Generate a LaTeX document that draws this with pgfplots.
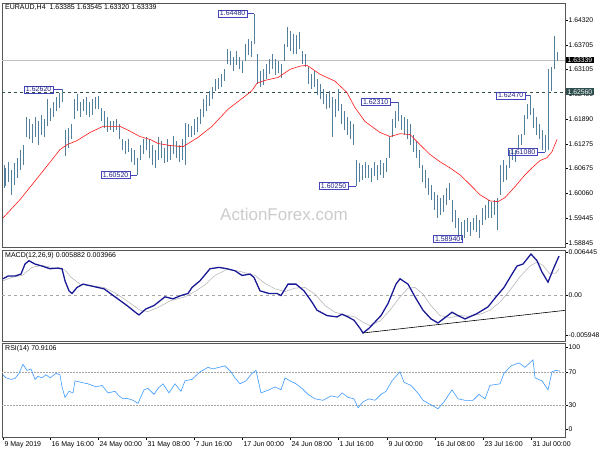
\documentclass[border=0pt]{standalone}
\usepackage{fontspec}
\setmainfont{Liberation Sans}
\usepackage{pgfplots}
\usepackage{pgfplotstable}
\pgfplotsset{compat=1.18}
\definecolor{barc}{HTML}{52809C}
\definecolor{labb}{HTML}{4444BB}
\definecolor{labt}{HTML}{22228A}
\definecolor{macdc}{HTML}{1A1A96}
\definecolor{rsic}{HTML}{3D9BFF}
\definecolor{slate}{HTML}{2F4F4F}
\definecolor{frame}{HTML}{555555}

\pgfplotstableread{
x lo hi
4 1.6020 1.6077
5 1.6025 1.6069
8 1.6035 1.6084
11 1.6003 1.6065
14 1.6028 1.6082
17 1.6045 1.6094
20 1.6065 1.6114
23 1.6077 1.6126
26 1.6144 1.6193
29 1.6139 1.6188
32 1.6131 1.6176
35 1.6146 1.6193
38 1.6126 1.6183
41 1.6151 1.6200
44 1.6144 1.6188
47 1.6171 1.6237
50 1.6183 1.6217
53 1.6193 1.6230
56 1.6208 1.6242
59 1.6217 1.6254
62 1.6230 1.6262
65 1.6097 1.6163
68 1.6119 1.6168
71 1.6139 1.6176
74 1.6188 1.6237
77 1.6208 1.6250
80 1.6193 1.6232
83 1.6208 1.6237
86 1.6200 1.6242
89 1.6193 1.6232
92 1.6200 1.6237
95 1.6213 1.6242
98 1.6213 1.6245
101 1.6183 1.6217
104 1.6168 1.6208
107 1.6158 1.6193
110 1.6163 1.6183
113 1.6156 1.6183
116 1.6163 1.6188
119 1.6139 1.6176
122 1.6114 1.6139
125 1.6102 1.6134
128 1.6109 1.6139
131 1.6084 1.6119
134 1.6077 1.6114
137 1.6052 1.6094
140 1.6089 1.6126
143 1.6102 1.6139
146 1.6114 1.6144
149 1.6094 1.6139
152 1.6077 1.6126
155 1.6069 1.6114
158 1.6089 1.6144
161 1.6094 1.6134
164 1.6082 1.6119
167 1.6084 1.6139
170 1.6089 1.6126
173 1.6102 1.6148
176 1.6094 1.6134
179 1.6084 1.6126
182 1.6089 1.6139
185 1.6077 1.6180
188 1.6146 1.6176
191 1.6144 1.6173
194 1.6151 1.6188
197 1.6156 1.6193
200 1.6176 1.6213
203 1.6193 1.6237
206 1.6208 1.6247
209 1.6222 1.6257
212 1.6237 1.6267
215 1.6257 1.6287
218 1.6262 1.6291
221 1.6267 1.6299
224 1.6282 1.6311
227 1.6324 1.6361
230 1.6321 1.6356
233 1.6306 1.6341
236 1.6321 1.6356
239 1.6311 1.6341
242 1.6301 1.6331
245 1.6331 1.6373
248 1.6346 1.6385
251 1.6341 1.6380
254 1.6373 1.6448
257 1.6274 1.6348
260 1.6267 1.6306
263 1.6272 1.6311
266 1.6287 1.6324
269 1.6299 1.6336
272 1.6311 1.6348
275 1.6296 1.6336
278 1.6301 1.6331
281 1.6291 1.6324
284 1.6331 1.6373
287 1.6365 1.6415
290 1.6356 1.6405
293 1.6348 1.6397
296 1.6348 1.6395
299 1.6361 1.6402
302 1.6324 1.6356
305 1.6316 1.6348
308 1.6274 1.6316
311 1.6262 1.6299
314 1.6267 1.6306
317 1.6247 1.6287
320 1.6237 1.6274
323 1.6225 1.6262
326 1.6213 1.6250
329 1.6217 1.6257
332 1.6146 1.6242
335 1.6193 1.6237
338 1.6208 1.6262
341 1.6176 1.6225
344 1.6163 1.6208
347 1.6151 1.6193
350 1.6139 1.6183
353 1.6126 1.6176
356 1.6025 1.6089
359 1.6035 1.6082
362 1.6040 1.6077
365 1.6045 1.6084
368 1.6045 1.6077
371 1.6035 1.6069
374 1.6050 1.6084
377 1.6040 1.6077
380 1.6052 1.6089
383 1.6045 1.6082
386 1.6060 1.6094
389 1.6094 1.6144
392 1.6144 1.6188
395 1.6168 1.6208
398 1.6183 1.6231
401 1.6163 1.6200
404 1.6151 1.6193
407 1.6139 1.6188
410 1.6126 1.6176
413 1.6109 1.6151
416 1.6094 1.6134
419 1.6069 1.6114
422 1.6035 1.6077
425 1.6020 1.6065
428 1.6003 1.6045
431 1.5991 1.6028
434 1.5966 1.6010
437 1.5946 1.6003
440 1.5954 1.5996
443 1.5961 1.6003
446 1.5978 1.6020
449 1.5991 1.6033
452 1.5936 1.5991
455 1.5922 1.5966
458 1.5904 1.5946
461 1.5894 1.5936
464 1.5897 1.5941
467 1.5912 1.5946
470 1.5902 1.5936
473 1.5917 1.5946
476 1.5912 1.5954
479 1.5897 1.5941
482 1.5929 1.5971
485 1.5941 1.5978
488 1.5946 1.5991
491 1.5946 1.5986
494 1.5954 1.5991
497 1.5917 1.5996
500 1.6003 1.6077
503 1.6035 1.6089
506 1.6040 1.6077
509 1.6069 1.6114
512 1.6089 1.6119
515 1.6084 1.6114
518 1.6119 1.6151
521 1.6126 1.6153
524 1.6151 1.6200
527 1.6188 1.6225
530 1.6200 1.6247
533 1.6168 1.6217
536 1.6151 1.6193
539 1.6139 1.6176
542 1.6114 1.6163
545 1.6108 1.6151
548 1.6114 1.6311
551 1.6257 1.6316
554 1.6311 1.6393
557 1.6332 1.63545
}\bars

\pgfplotstableread{
x ma
3 1.5946
20 1.5991
40 1.6052
60 1.6114
67 1.6126
77 1.6136
90 1.6156
103 1.6171
120 1.6171
127 1.6163
140 1.6146
150 1.6139
158 1.6129
170 1.6124
183 1.6121
198 1.6144
212 1.6171
228 1.6213
245 1.6245
252 1.6259
257 1.6277
265 1.6284
278 1.6291
290 1.6311
300 1.6319
307 1.6321
320 1.6299
335 1.6282
347 1.6254
355 1.6217
365 1.6183
380 1.6156
390 1.6146
400 1.6153
410 1.6151
420 1.6126
430 1.6102
440 1.6084
450 1.6069
460 1.6052
470 1.6028
480 1.6003
490 1.5988
498 1.5986
505 1.5996
515 1.6023
525 1.6052
532 1.6069
540 1.6087
547 1.6094
552 1.6109
557 1.6139
}\mavals

\pgfplotstableread{
x v
3 0.0025
8 0.0029
15 0.0029
21 0.0032
25 0.0047
29 0.0052
35 0.0047
42 0.0044
50 0.0040
58 0.0041
62 0.0040
65 0.0022
69 0.0007
72 0.0003
77 0.0012
83 0.0017
92 0.0014
104 0.0010
115 -0.0002
127 -0.0015
137 -0.0027
139 -0.0029
146 -0.0020
154 -0.0015
165 -0.0002
173 -0.0005
181 0.0000
188 0.0003
192 0.0012
200 0.0022
210 0.0040
219 0.0042
227 0.0040
235 0.0037
242 0.0030
250 0.0032
254 0.0027
260 0.0007
269 0.0003
277 0.0003
281 0.0000
288 0.0017
296 0.0017
304 0.0007
312 -0.0010
317 -0.0022
327 -0.0030
337 -0.0032
342 -0.0028
348 -0.0032
354 -0.0037
360 -0.0049
363 -0.0056
369 -0.0049
381 -0.0030
388 -0.0012
396 0.0017
400 0.0025
408 0.0017
415 -0.0002
423 -0.0022
431 -0.0035
438 -0.0041
446 -0.0032
452 -0.0025
458 -0.0030
465 -0.0035
477 -0.0027
488 -0.0017
496 -0.0002
504 0.0012
512 0.0032
517 0.0044
523 0.0047
531 0.0062
537 0.0052
542 0.0035
548 0.0020
554 0.0042
559 0.0059
}\macd

\pgfplotstableread{
x v
3 0.0022
12 0.0027
22 0.0030
32 0.0042
42 0.0045
55 0.0041
65 0.0038
72 0.0026
80 0.0017
90 0.0015
104 0.0012
115 0.0004
127 -0.0008
140 -0.0022
148 -0.0024
158 -0.0018
170 -0.0008
185 -0.0002
195 0.0006
205 0.0016
215 0.0030
227 0.0039
240 0.0036
255 0.0030
265 0.0018
275 0.0010
285 0.0006
295 0.0011
305 0.0012
315 0.0002
325 -0.0015
335 -0.0025
345 -0.0029
355 -0.0032
363 -0.0040
370 -0.0045
380 -0.0038
390 -0.0022
400 -0.0002
408 0.0011
415 0.0012
423 0.0002
431 -0.0015
440 -0.0030
450 -0.0033
460 -0.0030
470 -0.0031
480 -0.0028
490 -0.0022
500 -0.0010
510 0.0008
520 0.0028
530 0.0044
537 0.0050
543 0.0045
550 0.0032
556 0.0034
559 0.0040
}\signal

\pgfplotstableread{
x r
3 66.4
6 62.7
11 60.9
15 62.0
19 68.2
23 79.1
27 71.8
31 73.6
35 60.9
38 64.5
42 62.7
46 66.4
50 62.7
56 68.2
60 66.4
62 51.8
65 39.1
69 46.4
73 44.5
75 59.1
81 57.3
88 55.5
96 51.8
102 53.6
108 44.5
115 46.4
119 40.9
123 37.3
127 38.0
133 35.5
138 31.8
144 48.2
148 50.0
154 42.7
158 50.0
163 55.5
169 44.5
175 55.5
181 46.4
185 59.1
192 60.9
200 70.0
208 75.5
213 73.6
219 75.5
225 77.3
231 70.0
235 62.7
240 55.5
246 59.1
252 68.2
256 71.8
261 44.5
269 48.2
275 51.8
281 48.2
285 62.7
290 59.1
296 55.5
302 50.0
308 42.7
315 37.3
323 35.5
331 40.9
338 39.1
342 44.5
348 39.1
354 37.3
358 26.4
363 33.6
369 37.3
375 35.5
381 42.7
386 46.4
392 59.1
400 70.0
404 57.3
411 53.6
419 42.7
423 35.5
431 30.0
438 25.3
444 33.6
452 48.2
458 37.3
465 35.5
473 35.5
479 42.7
485 37.3
490 53.6
500 55.5
504 68.2
511 77.3
519 80.9
525 75.5
533 84.5
535 62.7
542 59.1
548 48.2
552 70.0
556 71.8
560 70.9
}\rsi

\newcommand{\plab}[4]{%
  \draw[labb, line width=0.5pt] (axis cs:#2,#3) -- (axis cs:#1,#3);%
  \node[draw=labb, text=labt, font=\fontsize{7}{8}\selectfont, inner xsep=1.5pt, inner ysep=1pt, anchor=east] at (axis cs:#2,#3) {#4};%
}

\begin{document}
\begin{tikzpicture}
\fill[white] (0pt,0pt) rectangle (600pt,-450pt);
\useasboundingbox (0pt,0pt) rectangle (600pt,-450pt);
\pgfplotsset{
  every axis/.append style={
    scale only axis, width=563pt, xmin=2, xmax=565,
    clip=false, scaled y ticks=false, scaled x ticks=false,
    axis line style={draw=frame, line width=0.9pt},
    ytick pos=right, yticklabel pos=right,
    tick align=outside, major tick length=2.5pt,
    tick style={black, line width=0.4pt},
    yticklabel style={font=\fontsize{6.8}{8}\selectfont, inner xsep=1pt},
    xticklabel style={font=\fontsize{7}{8}\selectfont},
  }
}
% ---------- main price panel ----------
\begin{axis}[name=main, at={(2pt,-3pt)}, anchor=north west, height=244pt,
  ymin=1.58747, ymax=1.6474, xtick=\empty,
  ytick={1.64320,1.63705,1.63105,1.62490,1.61890,1.61275,1.60675,1.60060,1.59445,1.58845},
  yticklabels={1.64320,1.63705,1.63105,1.62490,1.61890,1.61275,1.60675,1.60060,1.59445,1.58845}]
\node[text=black!20, font=\fontsize{17}{20}\selectfont] at (axis cs:284,1.5954) {ActionForex.com};
\addplot[black!25, line width=0.8pt] coordinates {(2,1.63339) (565,1.63339)};
\addplot[slate, dashed, line width=0.5pt] coordinates {(2,1.6256) (565,1.6256)};
\addplot[barc, line width=0.9pt, quiver={u=0, v=\thisrow{hi}-\thisrow{lo}}] table[x=x, y=lo] {\bars};
\addplot[red!90!white, line width=0.6pt] table[x=x, y=ma] {\mavals};
\plab{62}{53}{1.6262}{1.62620}
\plab{254}{247}{1.6448}{1.64480}
\plab{137}{130}{1.6052}{1.60520}
\plab{356}{348}{1.6025}{1.60250}
\plab{398}{390}{1.6231}{1.62310}
\plab{461}{462}{1.5894}{1.58940}
\plab{530}{525}{1.6247}{1.62470}
\plab{545}{537}{1.6108}{1.61080}
\node[anchor=west, fill=black, text=white, font=\fontsize{6.8}{8}\selectfont, inner xsep=1.5pt, inner ysep=1pt] at (axis cs:566,1.63339) {1.63339};
\node[anchor=west, fill=slate, text=white, font=\fontsize{6.8}{8}\selectfont, inner xsep=1.5pt, inner ysep=1pt] at (axis cs:566,1.6256) {1.62560};
\node[anchor=north west, font=\fontsize{7}{8}\selectfont, inner sep=0pt] at (axis cs:5,1.6470) {EURAUD,H4\ \ 1.63385 1.63545 1.63320 1.63339};
\end{axis}
% ---------- MACD panel ----------
\begin{axis}[name=macdax, at={(2pt,-250pt)}, anchor=north west, height=91pt,
  ymin=-0.0068, ymax=0.0068, xtick=\empty,
  ytick={-0.005948,0,0.006445}, yticklabels={-0.005948,0.00,0.006445}]
\addplot[black!35, dashed, line width=0.4pt] coordinates {(2,0) (565,0)};
\addplot[black!30, line width=0.5pt] table[x=x, y=v] {\signal};
\addplot[macdc, line width=1.3pt] table[x=x, y=v] {\macd};
\addplot[black, line width=0.6pt] coordinates {(363,-0.0056) (565,-0.00222)};
\node[anchor=north west, font=\fontsize{7}{8}\selectfont, inner sep=0pt] at (axis cs:5,0.0064) {MACD(12,26,9) 0.005882 0.003966};
\end{axis}
% ---------- RSI panel ----------
\begin{axis}[name=rsiax, at={(2pt,-343pt)}, anchor=north west, height=94pt,
  ymin=-9, ymax=105, ytick={0,30,70,100}, yticklabels={0,30,70,100},
  xtick pos=bottom,
  xtick={3,50,98,146,194,242,290,338,387,435,483,531},
  xticklabels={9 May 2019,16 May 16:00,24 May 00:00,31 May 08:00,7 Jun 16:00,17 Jun 00:00,24 Jun 08:00,1 Jul 16:00,9 Jul 00:00,16 Jul 08:00,23 Jul 16:00,31 Jul 00:00},
  xticklabel style={anchor=north west, xshift=-2pt, yshift=1.5pt}]
\addplot[black!35, densely dotted, line width=0.5pt] coordinates {(2,70) (565,70)};
\addplot[black!35, densely dotted, line width=0.5pt] coordinates {(2,30) (565,30)};
\addplot[rsic, line width=0.6pt] table[x=x, y=r] {\rsi};
\node[anchor=north west, font=\fontsize{7}{8}\selectfont, inner sep=0pt] at (axis cs:5,102) {RSI(14) 70.9106};
\end{axis}
\end{tikzpicture}
\end{document}
